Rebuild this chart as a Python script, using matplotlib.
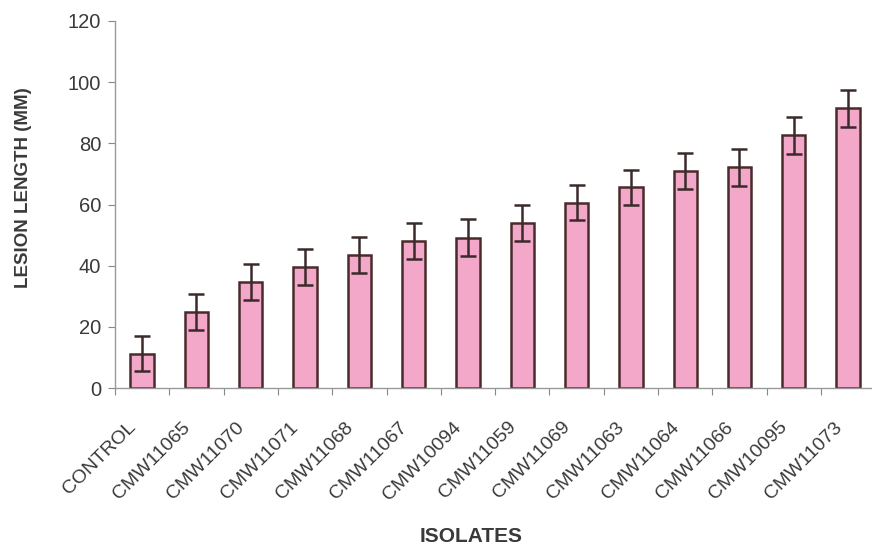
import matplotlib
matplotlib.use("Agg")
import matplotlib.pyplot as plt
from matplotlib.transforms import ScaledTranslation
import numpy as np

categories = ["CONTROL", "CMW11065", "CMW11070", "CMW11071", "CMW11068", "CMW11067",
              "CMW10094", "CMW11059", "CMW11069", "CMW11063", "CMW11064", "CMW11066",
              "CMW10095", "CMW11073"]
means = [11.2, 24.8, 34.7, 39.6, 43.5, 48.2, 49.2, 54.1, 60.6, 65.6, 71.0, 72.1, 82.6, 91.4]
errors = [5.8, 5.9, 6.0, 6.0, 5.9, 5.9, 6.0, 5.9, 5.8, 5.6, 6.0, 6.0, 6.0, 6.0]
yticks = [0, 20, 40, 60, 80, 100, 120]

plt.rcParams['font.family'] = ['Liberation Sans', 'DejaVu Sans']
text_color = '#3a3a3a'

fig = plt.figure(figsize=(8.72, 5.53), dpi=100)
ax = fig.add_axes([115/872, 1-388/553, 757/872, 367/553])

x = np.arange(len(categories))
ax.bar(x, means, width=0.43, color='#f3a8ca', edgecolor='#4a2b2b', linewidth=1.8, zorder=2)
ax.errorbar(x, means, yerr=errors, fmt='none', ecolor='#3a2a2a', elinewidth=1.8,
            capsize=6, capthick=1.8, zorder=3)

ax.set_xlim(-0.5, 13.44)
ax.set_ylim(0, 120)
ax.set_yticks(yticks)
ax.set_yticklabels([str(v) for v in yticks], fontsize=14.5, color=text_color)
ax.set_xticks(np.arange(-0.5, 13.5, 1.0))
ax.set_xticklabels([])
ax.set_xticks(x, minor=True)
ax.set_xticklabels(categories, minor=True, rotation=45, ha='right', va='top',
                   rotation_mode='anchor', fontsize=14, color=text_color)
ax.tick_params(axis='x', which='minor', length=0, pad=22)
ax.tick_params(axis='x', which='major', length=5, color='#888888', direction='out')
ax.tick_params(axis='y', length=5, color='#888888', direction='out', pad=5)
for lbl in ax.get_xticklabels(minor=True):
    lbl.set_transform(lbl.get_transform() + ScaledTranslation(-0.15, 0, fig.dpi_scale_trans))

for s in ['top', 'right']:
    ax.spines[s].set_visible(False)
for s in ['left', 'bottom']:
    ax.spines[s].set_color('#999999')
    ax.spines[s].set_linewidth(1.0)

fig.text(24/872, 1-188/553, 'LESION LENGTH (MM)', rotation=90, ha='center', va='center',
         fontsize=13.5, fontweight='bold', color=text_color)
fig.text(471/872, 1-537/553, 'ISOLATES', ha='center', va='center', fontsize=15,
         fontweight='bold', color=text_color)

fig.savefig('out.png', dpi=100)
